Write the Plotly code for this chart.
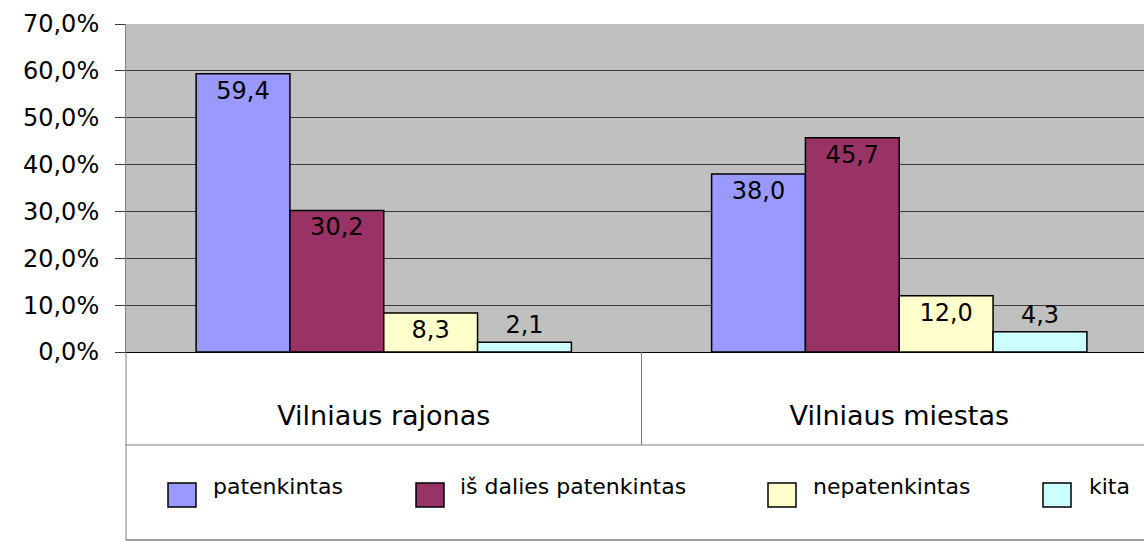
import plotly.graph_objects as go

categories = ["Vilniaus rajonas", "Vilniaus miestas"]
series_names = ["patenkintas", "iš dalies patenkintas", "nepatenkintas", "kita"]
series_values = [
    [59.4, 38.0],
    [30.2, 45.7],
    [8.3, 12.0],
    [2.1, 4.3],
]
series_colors = ["#9999FF", "#993366", "#FFFFCC", "#CCFFFF"]
y_ticks = [0, 10, 20, 30, 40, 50, 60, 70]
y_tick_labels = ["0,0%", "10,0%", "20,0%", "30,0%", "40,0%", "50,0%", "60,0%", "70,0%"]

FONT = "DejaVu Sans"
W, H = 1144, 541
ML, MR, MT, MB = 126, 0, 24, 189
PW = W - ML - MR
PH = H - MT - MB
X_RANGE = [-0.5, -0.5 + PW / 515.5]


def px_x(px):
    return (px - ML) / PW


def px_y(py):
    return (H - MB - py) / PH


fig = go.Figure()
for name, vals, col in zip(series_names, series_values, series_colors):
    fig.add_trace(go.Bar(
        x=categories, y=vals, name=name,
        marker=dict(color=col, line=dict(color="#000000", width=1.5)),
        texttemplate="%{y:.1f}",
        textposition="auto",
        insidetextanchor="end",
        textangle=0,
        constraintext="none",
        insidetextfont=dict(family=FONT, size=24, color="#000000"),
        outsidetextfont=dict(family=FONT, size=24, color="#000000"),
        cliponaxis=False,
        showlegend=False,
    ))

shapes = []
div_x = (0.5 - X_RANGE[0]) / (X_RANGE[1] - X_RANGE[0])
y_cat_bottom = px_y(445)
y_leg_bottom = px_y(540)
line_gray = dict(color="#808080", width=1)
shapes.append(dict(type="line", xref="paper", yref="paper", x0=0, x1=0,
                   y0=y_leg_bottom, y1=0, line=line_gray))
shapes.append(dict(type="line", xref="paper", yref="paper", x0=0, x1=1.02,
                   y0=y_cat_bottom, y1=y_cat_bottom, line=line_gray))
shapes.append(dict(type="line", xref="paper", yref="paper", x0=div_x, x1=div_x,
                   y0=y_cat_bottom, y1=0, line=line_gray))
shapes.append(dict(type="line", xref="paper", yref="paper", x0=0, x1=1.02,
                   y0=y_leg_bottom, y1=y_leg_bottom, line=dict(color="#404040", width=1)))

# custom legend
sq_left = [168, 416, 768, 1043]
txt_left = [211, 458, 811, 1087]
annotations = []
for name, col, sx, tx in zip(series_names, series_colors, sq_left, txt_left):
    shapes.append(dict(type="rect", xref="paper", yref="paper",
                       x0=px_x(sx), x1=px_x(sx + 28),
                       y0=px_y(507), y1=px_y(483),
                       fillcolor=col, line=dict(color="#000000", width=1.5)))
    annotations.append(dict(xref="paper", yref="paper", x=px_x(tx), y=px_y(486),
                            xanchor="left", yanchor="middle", text=name, showarrow=False,
                            font=dict(family=FONT, size=22, color="#000000")))

fig.update_layout(
    width=W, height=H,
    margin=dict(l=ML, r=MR, t=MT, b=MB, pad=0),
    paper_bgcolor="#FFFFFF",
    plot_bgcolor="#C0C0C0",
    separators=", ",
    barmode="group",
    bargap=0.272,
    bargroupgap=0,
    shapes=shapes,
    annotations=annotations,
    font=dict(family=FONT, color="#000000"),
    xaxis=dict(
        range=X_RANGE,
        showline=True, linecolor="#000000", linewidth=1,
        showgrid=False, ticks="",
        tickfont=dict(family=FONT, size=27, color="#000000"),
        ticklabelstandoff=40,
    ),
    yaxis=dict(
        range=[0, 70],
        tickmode="array",
        tickvals=y_ticks,
        ticktext=y_tick_labels,
        showline=True, linecolor="#808080", linewidth=1,
        showgrid=True, gridcolor="#3a3a3a", gridwidth=1,
        zeroline=False,
        ticks="outside", ticklen=10, tickcolor="#3a3a3a",
        tickfont=dict(family=FONT, size=24, color="#000000"),
        ticklabelstandoff=11,
    ),
)

fig.write_html(
    "out.html",
    config={"displayModeBar": False},
    post_script="document.body.style.margin='0';document.body.style.overflow='hidden';",
)
